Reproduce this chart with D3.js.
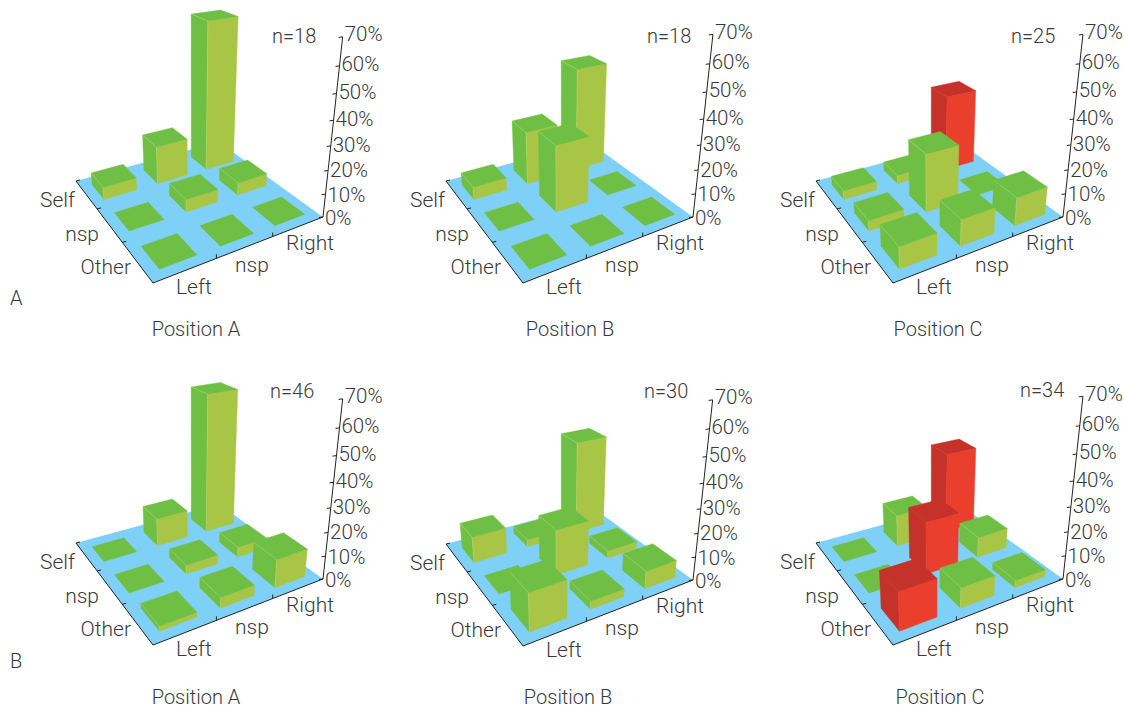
<!DOCTYPE html>
<html>
<head>
<meta charset="utf-8">
<script src="https://cdn.jsdelivr.net/npm/d3@7.9.0/dist/d3.min.js"></script>
<style>
  html, body { margin: 0; background: #fff; }
  text { font-family: Roboto, "Liberation Sans", sans-serif; font-weight: 300; fill: #3a3a3a; font-size: 20px; }
  .tick-label { font-size: 20.5px; }
  .cat-label { font-size: 21px; }
</style>
</head>
<body>
<svg id="chart" width="1124" height="709"></svg>
<script>
const rowLabels = ['Self', 'nsp', 'Other'];
const colLabels = ['Left', 'nsp', 'Right'];
const zTicks = [0, 10, 20, 30, 40, 50, 60, 70];
const panelTitles = ['Position A', 'Position B', 'Position C', 'Position A', 'Position B', 'Position C'];
const panelCounts = ['n=18', 'n=18', 'n=25', 'n=46', 'n=30', 'n=34'];

// values in %, row by row: Self, nsp, Other (each Left, nsp, Right)
const topA = [5.6, 17, 66, 0, 5.6, 5.6, 0, 0, 0];
const topB = [5.6, 23.5, 46, 0, 28.5, 0, 0, 0, 0];
const topC = [4, 4, 34, 4.5, 25, 0, 9, 11, 12];
const bottomA = [0, 12.5, 61.5, 0, 4, 4.5, 2, 4.5, 12];
const bottomB = [11.5, 3.3, 41.5, 0, 19.5, 3.3, 15.5, 3.3, 7.5];
const bottomC = [0, 14, 36, 0, 22.5, 9, 15.5, 8.5, 3];
const panelValues = [topA, topB, topC, bottomA, bottomB, bottomC];

// cells drawn red, as "row,col"
const topCRed = ['0,2'];
const bottomCRed = ['0,2', '1,1', '2,0'];
const panelRed = [[], [], topCRed, [], [], bottomCRed];

// where each panel's front floor corner sits on the page
const originX = [153, 523, 893, 153, 523, 893];
const originY = [283, 283, 283, 645, 646, 645];
const titleX = [196, 570, 938, 196, 568, 940];
const titleY = [336, 336, 336, 704, 704, 704];
const countX = [272, 647, 1011, 270, 644, 1020];
const countY = [43, 43, 43, 398, 398, 397];
// some panels have a slightly taller value axis
const axisStretch = [1, 1.012, 1.012, 1, 1, 1.012];

const floorColor = '#7fd0f6';
const greenTop = '#6fbf45';
const greenFront = '#a9c545';
const edgeColor = '#bcdc8c';
const redSide = '#c5322a';
const redFront = '#ea3f2c';
const insetNear = 0.2;

// floor corners relative to the front corner
const corners = [[0, 0], [170, -66], [66, -141], [-77, -102]];
const vanish = [39, 1134];   // where the verticals meet, below the floor

const hom = (() => {
  const [p0, p1, p2, p3] = corners;
  const dx1 = p1[0] - p2[0], dx2 = p3[0] - p2[0], sx = p0[0] - p1[0] + p2[0] - p3[0];
  const dy1 = p1[1] - p2[1], dy2 = p3[1] - p2[1], sy = p0[1] - p1[1] + p2[1] - p3[1];
  const den = dx1 * dy2 - dx2 * dy1;
  const g = (sx * dy2 - dx2 * sy) / den;
  const h = (dx1 * sy - sx * dy1) / den;
  return {
    a: p1[0] - p0[0] + g * p1[0], b: p3[0] - p0[0] + h * p3[0],
    d: p1[1] - p0[1] + g * p1[1], e: p3[1] - p0[1] + h * p3[1],
    g, h,
  };
})();

const uScale = d3.scaleLinear().domain([0, 3]).range([0, 1]);
const vScale = d3.scaleLinear().domain([0, 3]).range([0, 1]);
// height scale in homogeneous units, fitted so 70% lands on the axis top
const zScale = d3.scaleLinear().domain([0, 70]).range([0, -0.1553]);
const farInset = d3.scaleLinear().domain([0, 2]).range([0.22, 0.26]);
const tickLabelDrop = d3.scaleLinear().domain([0, 70]).range([8, 4.2]);

function project(col, row, pct) {
  const u = uScale(col), v = vScale(row), t = zScale(pct);
  const w = hom.g * u + hom.h * v + 1 + t;
  return [
    (hom.a * u + hom.b * v + t * vanish[0]) / w,
    (hom.d * u + hom.e * v + t * vanish[1]) / w,
  ];
}

const poly = (pts) => d3.line()(pts) + 'Z';
const svg = d3.select('#chart');

function drawBar(g, col, row, value, red) {
  const x0 = col + insetNear, x1 = col + 1 - insetNear;
  const y0 = row + insetNear, y1 = row + 1 - farInset(row);
  const side = red ? redSide : greenTop;
  const front = red ? redFront : greenFront;
  const top = [[x0, y0], [x1, y0], [x1, y1], [x0, y1]].map((c) => project(c[0], c[1], value));
  if (value > 0) {
    g.append('path')
      .attr('d', poly([project(x0, y0, 0), project(x0, y1, 0), project(x0, y1, value), project(x0, y0, value)]))
      .attr('fill', side).attr('stroke', side).attr('stroke-width', 0.4);
    g.append('path')
      .attr('d', poly([project(x0, y0, 0), project(x1, y0, 0), project(x1, y0, value), project(x0, y0, value)]))
      .attr('fill', front).attr('stroke', front).attr('stroke-width', 0.4);
  }
  g.append('path').attr('d', poly(top)).attr('fill', side).attr('stroke', side).attr('stroke-width', 0.4);
  if (value > 0 && !red) {
    // faint pale seams on the green boxes
    g.append('path')
      .attr('d', d3.line()([project(x0, y1, value), project(x0, y0, value), project(x0, y0, 0)]))
      .attr('fill', 'none').attr('stroke', edgeColor).attr('stroke-width', 0.6).attr('opacity', 0.7);
  }
}

function drawPanel(i) {
  const g = svg.append('g').attr('transform', `translate(${originX[i]},${originY[i]})`);
  const values = panelValues[i];

  g.append('path')
    .attr('d', poly([project(0, 0, 0), project(3, 0, 0), project(3, 3, 0), project(0, 3, 0)]))
    .attr('fill', floorColor);

  // back to front so nearer bars cover the farther ones
  rowLabels.forEach((_, r) => {
    d3.range(2, -1, -1).forEach((c) => {
      const value = values[r * 3 + c];
      drawBar(g, c, 2 - r, value, panelRed[i].includes(`${r},${c}`));
    });
  });

  const axisStroke = (sel) => sel.attr('stroke', '#222').attr('stroke-width', 1).attr('fill', 'none');
  g.append('path').attr('d', d3.line()([project(0, 3, 0), project(0, 0, 0), project(3, 0, 0)])).call(axisStroke);
  g.append('path').attr('d', d3.line()([project(3, 0, 0), project(3, 0, 70 * axisStretch[i])])).call(axisStroke);

  // floor edge ticks
  d3.range(0, 4).forEach((k) => {
    const [ax, ay] = project(0, k, 0);
    if (k > 0) g.append('path').attr('d', d3.line()([[ax, ay], [ax + 4, ay - 1]])).call(axisStroke);
    const [bx, by] = project(k, 0, 0);
    if (k > 0 && k < 3) g.append('path').attr('d', d3.line()([[bx, by], [bx, by - 4]])).call(axisStroke);
  });

  zTicks.forEach((t) => {
    const [x, y] = project(3, 0, t * axisStretch[i]);
    g.append('path').attr('d', d3.line()([[x, y], [x - 4, y + 0.5]])).call(axisStroke);
    g.append('text').attr('class', 'tick-label').attr('x', x + 2).attr('y', y + tickLabelDrop(t)).text(`${t}%`);
  });

  const rowEnd = [-78, -54, -22], rowY = [-76, -42, -9];
  rowLabels.forEach((lab, r) => {
    g.append('text').attr('class', 'cat-label').attr('x', rowEnd[r]).attr('y', rowY[r]).attr('text-anchor', 'end').text(lab);
  });
  const colStart = [23, 82, 133], colY = [11, -11, -33];
  colLabels.forEach((lab, c) => {
    g.append('text').attr('class', 'cat-label').attr('x', colStart[c]).attr('y', colY[c]).text(lab);
  });

  svg.append('text').attr('x', titleX[i]).attr('y', titleY[i]).attr('text-anchor', 'middle').text(panelTitles[i]);
  svg.append('text').attr('x', countX[i]).attr('y', countY[i]).text(panelCounts[i]);
}

panelTitles.forEach((_, i) => drawPanel(i));

svg.append('text').attr('x', 10).attr('y', 305).text('A');
svg.append('text').attr('x', 10).attr('y', 668).text('B');
</script>
</body>
</html>
